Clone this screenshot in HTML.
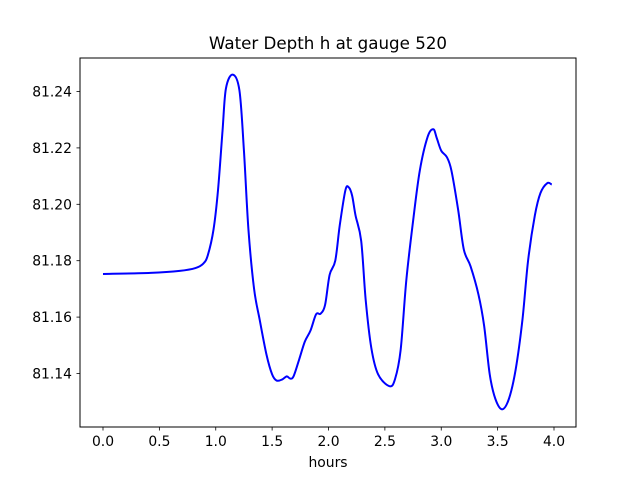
<!DOCTYPE html>
<html><head><meta charset="utf-8"><style>
html,body{margin:0;padding:0;background:#fff;}
svg{display:block;font-family:"DejaVu Sans","Liberation Sans",sans-serif;}
</style></head><body>
<svg id="chart" width="640" height="480" viewBox="0 0 640 480" xmlns="http://www.w3.org/2000/svg">
<rect width="640" height="480" fill="#fff"/>
<text x="328" y="49" font-size="16.7" text-anchor="middle" fill="#000">Water Depth h at gauge 520</text>
<g id="xticks"></g>
<g id="yticks"></g>
<text x="328" y="467" font-size="13.9" text-anchor="middle" fill="#000">hours</text>
<path id="series" fill="none" stroke="#0000ff" stroke-width="2" stroke-linejoin="round"/>
<rect x="80" y="58" width="496" height="369" fill="none" stroke="#000" stroke-width="1"/>
</svg>
<script>
const hours = [0,0.42,0.68,0.82,0.89,0.93,0.98,1.02,1.06,1.09,1.15,1.21,1.25,1.29,1.34,1.39,1.45,1.50,1.54,1.59,1.63,1.66,1.69,1.74,1.79,1.84,1.89,1.93,1.97,2.01,2.06,2.10,2.15,2.18,2.21,2.24,2.29,2.33,2.38,2.44,2.54,2.59,2.64,2.69,2.75,2.81,2.88,2.93,2.96,3.00,3.05,3.09,3.15,3.20,3.26,3.33,3.38,3.43,3.48,3.54,3.60,3.66,3.72,3.77,3.83,3.88,3.94,3.98];
const depth = [81.1753,81.1757,81.1764,81.1774,81.179,81.182,81.191,81.205,81.226,81.241,81.246,81.2404,81.219,81.191,81.170,81.159,81.1467,81.1397,81.1375,81.1379,81.139,81.1382,81.139,81.145,81.1513,81.1552,81.161,81.1612,81.1644,81.175,81.180,81.1926,81.205,81.206,81.203,81.196,81.187,81.166,81.149,81.1397,81.1355,81.138,81.1484,81.173,81.194,81.212,81.224,81.2266,81.2235,81.219,81.2167,81.212,81.198,81.184,81.178,81.168,81.157,81.1397,81.131,81.1273,81.131,81.1414,81.159,81.180,81.196,81.204,81.2075,81.207];
const xTickLabels = ["0.0","0.5","1.0","1.5","2.0","2.5","3.0","3.5","4.0"];
const yTickLabels = ["81.14","81.16","81.18","81.20","81.22","81.24"];

const NS = "http://www.w3.org/2000/svg";
function xScale(v){ return 103 + v * 112.75; }
function yScale(v){ return 373.5 - (v - 81.14) * 2820; }

const xg = document.getElementById('xticks');
xTickLabels.forEach(function(lbl){
  const v = parseFloat(lbl), x = xScale(v);
  const t = document.createElementNS(NS,'line');
  
  
  t.setAttribute('x1',x);t.setAttribute('x2',x);t.setAttribute('y1',427);t.setAttribute('y2',430.5);
  t.setAttribute('stroke','#000');t.setAttribute('stroke-width','0.8');
  xg.appendChild(t);
  const tx = document.createElementNS(NS,'text');
  
  
  tx.setAttribute('x',x);tx.setAttribute('y',446);tx.setAttribute('font-size','13.9');
  tx.setAttribute('text-anchor','middle');tx.textContent = lbl;
  xg.appendChild(tx);
});
const yg = document.getElementById('yticks');
yTickLabels.forEach(function(lbl){
  const v = parseFloat(lbl), y = yScale(v);
  const t = document.createElementNS(NS,'line');
  
  
  t.setAttribute('x1',76.5);t.setAttribute('x2',80);t.setAttribute('y1',y);t.setAttribute('y2',y);
  t.setAttribute('stroke','#000');t.setAttribute('stroke-width','0.8');
  yg.appendChild(t);
  const tx = document.createElementNS(NS,'text');
  
  
  tx.setAttribute('x',72);tx.setAttribute('y',y+5);tx.setAttribute('font-size','13.9');
  tx.setAttribute('text-anchor','end');tx.textContent = lbl;
  yg.appendChild(tx);
});

const pts = hours.map(function(h,i){ return [xScale(h), yScale(depth[i])]; });
let d = 'M' + pts[0][0] + ',' + pts[0][1];
for (let i = 0; i < pts.length - 1; i++) {
  const p0 = pts[Math.max(0,i-1)], p1 = pts[i], p2 = pts[i+1], p3 = pts[Math.min(pts.length-1,i+2)];
  const c1x = p1[0] + (p2[0]-p0[0])/6, c1y = p1[1] + (p2[1]-p0[1])/6;
  const c2x = p2[0] - (p3[0]-p1[0])/6, c2y = p2[1] - (p3[1]-p1[1])/6;
  d += ' C' + c1x + ',' + c1y + ' ' + c2x + ',' + c2y + ' ' + p2[0] + ',' + p2[1];
}
document.getElementById('series').setAttribute('d', d);
</script>
</body></html>
